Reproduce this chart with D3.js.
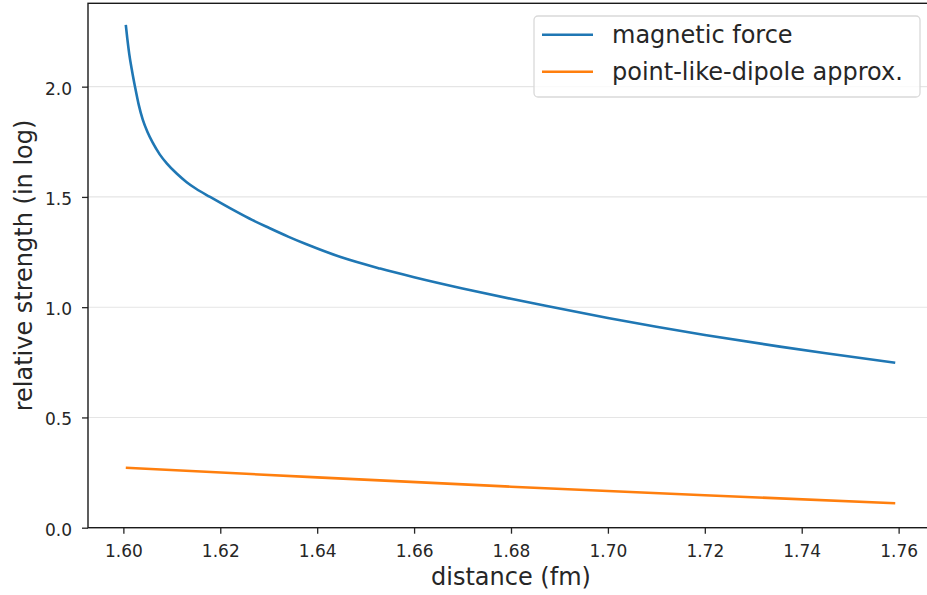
<!DOCTYPE html>
<html>
<head>
<meta charset="utf-8">
<script src="https://cdn.jsdelivr.net/npm/d3@7"></script>
<style>
  body { margin: 0; background: #fff; }
  svg text { font-family: "DejaVu Sans", sans-serif; fill: #262626; }
</style>
</head>
<body>
<div id="chart"></div>
<script>
// data
const distance = [1.6005, 1.6008, 1.6012, 1.6018, 1.6024, 1.6032, 1.6040, 1.6050, 1.6060, 1.6075,
                  1.6090, 1.6110, 1.6130, 1.6150, 1.6179, 1.6220, 1.6260, 1.6300, 1.6340, 1.6378,
                  1.6450, 1.6530, 1.6600, 1.6700, 1.6800, 1.6874, 1.7000, 1.7100, 1.7200, 1.7355,
                  1.7450, 1.7593];
const magneticForce = [2.28, 2.22, 2.15, 2.07, 2.00, 1.915, 1.850, 1.793, 1.748, 1.693,
                       1.651, 1.606, 1.568, 1.537, 1.500, 1.449, 1.402, 1.360, 1.320, 1.285,
                       1.226, 1.175, 1.136, 1.085, 1.038, 1.005, 0.951, 0.911, 0.874, 0.821,
                       0.791, 0.748];
const dipoleDistance = [1.6005, 1.64, 1.68, 1.72, 1.7593];
const dipoleApprox = [0.272, 0.228, 0.186, 0.147, 0.111];

const seriesNames = ["magnetic force", "point-like-dipole approx."];
const seriesColors = ["#1f77b4", "#ff7f0e"];
const xTicks = [1.60, 1.62, 1.64, 1.66, 1.68, 1.70, 1.72, 1.74, 1.76];
const yTicks = [0.0, 0.5, 1.0, 1.5, 2.0];

// dimensions
const W = 927, H = 595;
const margin = { top: 3.3, left: 88, bottom: 67.3 };
const plotW = 846, plotH = H - margin.top - margin.bottom;

const svg = d3.select("#chart").append("svg")
  .attr("width", W).attr("height", H);

const g = svg.append("g")
  .attr("transform", `translate(${margin.left},${margin.top})`);

// scales
const x = d3.scaleLinear().domain([1.5927, 1.7673]).range([0, plotW]);
const y = d3.scaleLinear().domain([0, 2.378]).range([plotH, 0]);

// grid (y only)
g.append("g").selectAll("line")
  .data(yTicks)
  .join("line")
  .attr("x1", 0).attr("x2", plotW)
  .attr("y1", d => y(d)).attr("y2", d => y(d))
  .attr("stroke", "#e5e5e5").attr("stroke-width", 1.1);

// lines
const line = d3.line().x(d => x(d[0])).y(d => y(d[1])).curve(d3.curveMonotoneX);
const series = [
  d3.zip(distance, magneticForce),
  d3.zip(dipoleDistance, dipoleApprox)
];
g.selectAll("path.series")
  .data(series)
  .join("path")
  .attr("class", "series")
  .attr("fill", "none")
  .attr("stroke", (d, i) => seriesColors[i])
  .attr("stroke-width", 2.6)
  .attr("d", line);

// axes
const xAxis = g.append("g")
  .attr("transform", `translate(0,${plotH})`)
  .call(d3.axisBottom(x).tickValues(xTicks).tickFormat(d3.format(".2f")).tickSize(6).tickPadding(6));
xAxis.selectAll("text").attr("y", 29).attr("dy", 0).style("font-size", "17px");

const yAxis = g.append("g")
  .call(d3.axisLeft(y).tickValues(yTicks).tickFormat(d3.format(".1f")).tickSize(6).tickPadding(10));
yAxis.selectAll("text").attr("dy", "0.44em").style("font-size", "17px");

[xAxis, yAxis].forEach(a => {
  a.select(".domain").remove();
  a.selectAll(".tick line").attr("stroke", "#262626").attr("stroke-width", 1.3);
  a.selectAll("text").attr("fill", "#262626").style("font-family", "DejaVu Sans");
});

// frame
g.append("rect")
  .attr("width", plotW).attr("height", plotH)
  .attr("fill", "none").attr("stroke", "#1a1a1a").attr("stroke-width", 1.4);

// axis labels
svg.append("text")
  .attr("x", margin.left + plotW / 2).attr("y", 585)
  .attr("text-anchor", "middle").style("font-size", "24px")
  .text("distance (fm)");

svg.append("text")
  .attr("transform", `translate(32,${margin.top + plotH / 2}) rotate(-90)`)
  .attr("text-anchor", "middle").style("font-size", "24px")
  .text("relative strength (in log)");

// legend
const legend = svg.append("g").attr("transform", "translate(534,16)");
legend.append("rect")
  .attr("width", 386).attr("height", 81).attr("rx", 4)
  .attr("fill", "#fff").attr("fill-opacity", 0.8)
  .attr("stroke", "#d9d9d9").attr("stroke-width", 1.3);
const item = legend.selectAll("g.item")
  .data(seriesNames)
  .join("g")
  .attr("class", "item")
  .attr("transform", (d, i) => `translate(0,${18.7 + i * 37})`);
item.append("line")
  .attr("x1", 8).attr("x2", 59)
  .attr("stroke", (d, i) => seriesColors[i]).attr("stroke-width", 2.6);
item.append("text")
  .attr("x", 78).attr("dy", "0.36em")
  .style("font-size", "24px")
  .text(d => d);
</script>
</body>
</html>
